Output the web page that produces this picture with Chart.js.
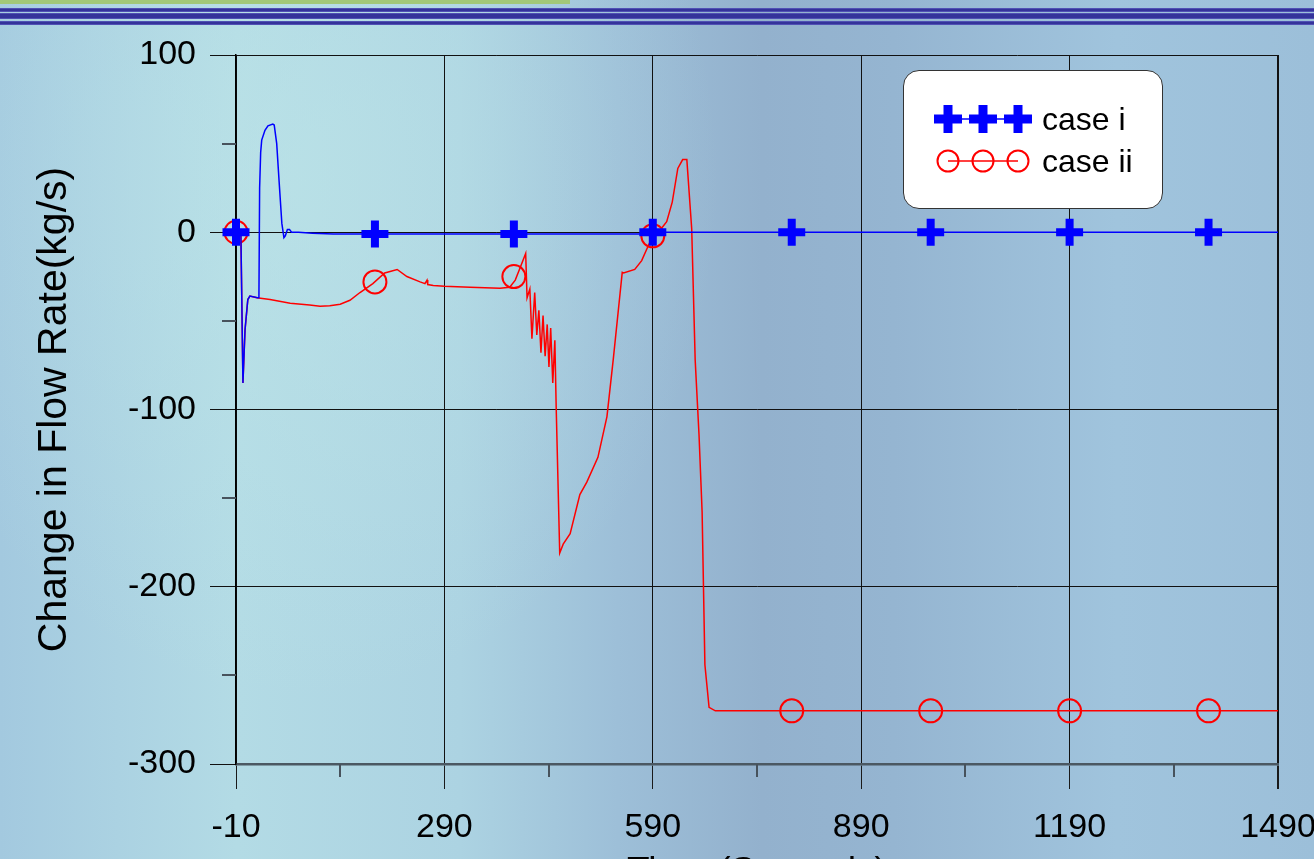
<!DOCTYPE html>
<html>
<head>
<meta charset="utf-8">
<title>Change in Flow Rate</title>
<script src="https://cdn.jsdelivr.net/npm/chart.js@4"></script>
<style>
    html, body {
        margin: 0;
        padding: 0;
        width: 1314px;
        height: 859px;
        overflow: hidden;
        font-family: 'Liberation Sans', Arial, sans-serif;
    }
    #slide {
        position: relative;
        width: 1314px;
        height: 859px;
        overflow: hidden;
        background:
            radial-gradient(ellipse 420px 520px at 300px 180px, rgba(190, 230, 232, 0.55), rgba(190, 230, 232, 0) 100%),
            linear-gradient(90deg, #a3c9df 0%, #b3dbe5 18%, #acd3e2 35%, #9dbfd8 47%, #93b1cd 58%, #95b5d1 68%, #a0c4dd 85%, #9cbfd9 100%);
    }
    .band { position: absolute; left: 0; width: 1314px; background: #34339a; border-top: 1px solid #5050b4; border-bottom: 1px solid #5050b4; box-sizing: border-box; }
    #greenBar { position: absolute; left: 0; top: 0; width: 570px; height: 4px; background: #a2c878; }
    #chartWrap { position: absolute; left: 0; top: 0; width: 1360px; height: 900px; }
    #legendBox {
        position: absolute;
        left: 903px;
        top: 70px;
        width: 260px;
        height: 139px;
        box-sizing: border-box;
        background: #fff;
        border: 1.5px solid #333;
        border-radius: 16px;
        font-size: 32px;
        color: #000;
    }
    .legendRow { position: absolute; left: 0; height: 40px; display: flex; align-items: center; }
    .legendRow svg { margin-left: 28px; margin-right: 6px; }
</style>
</head>
<body>
<div id="slide">
    <div id="greenBar"></div>
    <div class="band" style="top: 8px; height: 4px;"></div>
    <div class="band" style="top: 13px; height: 6px;"></div>
    <div class="band" style="top: 21px; height: 4px;"></div>
    <div id="chartWrap"><canvas id="flowChart" width="1360" height="900"></canvas></div>
    <div id="legendBox">
        <div class="legendRow" style="top: 28px;">
            <svg width="104" height="30" viewBox="0 0 104 30">
                <line x1="16" y1="15" x2="86" y2="15" stroke="#0000ff" stroke-width="1.5"/>
                <g stroke="#0000ff" stroke-width="9">
                    <line x1="2" y1="15" x2="30" y2="15"/><line x1="16" y1="1" x2="16" y2="29"/>
                    <line x1="37" y1="15" x2="65" y2="15"/><line x1="51" y1="1" x2="51" y2="29"/>
                    <line x1="72" y1="15" x2="100" y2="15"/><line x1="86" y1="1" x2="86" y2="29"/>
                </g>
            </svg>
            <span>case i</span>
        </div>
        <div class="legendRow" style="top: 70px;">
            <svg width="104" height="30" viewBox="0 0 104 30">
                <line x1="16" y1="15" x2="86" y2="15" stroke="#ff0000" stroke-width="1.5"/>
                <g stroke="#ff0000" stroke-width="2" fill="none">
                    <circle cx="16" cy="15" r="10.5"/>
                    <circle cx="51" cy="15" r="10.5"/>
                    <circle cx="86" cy="15" r="10.5"/>
                </g>
            </svg>
            <span>case ii</span>
        </div>
    </div>
</div>
<script>
// Time (s) and change in flow rate (kg/s)
const caseITime = [-10, -3, 0, 3, 7, 10, 21, 23, 24, 25.5, 27, 31.7, 36, 43, 45, 48.6, 52, 56, 59, 61, 64, 67, 70, 80, 100, 130, 590, 600, 1490];
const caseIFlow = [0, 0, -85, -55, -38, -36, -37, -37, 25, 45, 52, 57.5, 60, 61, 60.5, 50, 29, 5, -3, -2, 1.5, 1.5, 0, 0, -0.5, -1, -1, 0, 0];

const caseIITime = [-10, -3, 0, 3, 7, 10, 20, 39, 68, 96, 111, 125, 140, 154, 168.5, 187, 204, 222, 236, 255, 262, 265, 266, 274, 290, 327, 370, 384, 392, 399, 407, 409, 413, 416, 420, 423, 426, 429, 432, 435, 438, 440.5, 443, 446, 449, 451, 456, 461, 471, 485, 495, 511, 524, 533, 546, 548, 564, 574, 583, 590, 602, 610, 618, 626, 633, 639, 646, 651, 656.5, 661, 665, 671, 680, 1490];
const caseIIFlow = [0, 0, -85, -55, -38, -36, -37, -38, -40, -41, -41.7, -41.5, -40.6, -38.4, -34, -29, -23, -21, -25, -28, -29, -27, -29.5, -30, -30.5, -31, -31.6, -31, -27, -20, -12, -37, -32, -60, -34, -58, -44, -68, -47, -70, -52, -76, -54, -85, -61, -100, -181, -176, -170, -148, -141, -127, -104, -72, -22.6, -23, -21, -16, -8, -2, 2, 6, 17, 36, 41, 41, 2, -72, -114, -158, -244, -268, -270, -270];

// marker positions
const markerTime = [-10, 190, 390, 590, 790, 990, 1190, 1390];
const caseIMarkers = [0, -1, -1, 0, 0, 0, 0, 0];
const caseIIMarkers = [0, -28, -25, -2, -270, -270, -270, -270];

// axis ticks
const xTickValues = [-10, 290, 590, 890, 1190, 1490];
const xMinorTicks = [140, 440, 740, 1040, 1340];
const yTickValues = [-300, -200, -100, 0, 100];
const yMinorTicks = [-250, -150, -50, 50];

function toPoints(xs, ys) {
    return xs.map((x, i) => ({ x: x, y: ys[i] }));
}

// short minor ticks outside the plot area
const minorTicks = {
    id: 'minorTicks',
    afterDraw(chart) {
        const ctx = chart.ctx;
        const x = chart.scales.x;
        const y = chart.scales.y;
        const area = chart.chartArea;
        ctx.save();
        ctx.strokeStyle = '#47525c';
        ctx.lineWidth = 2;
        ctx.beginPath();
        xMinorTicks.forEach(v => {
            const px = Math.round(x.getPixelForValue(v));
            ctx.moveTo(px, area.bottom);
            ctx.lineTo(px, area.bottom + 13);
        });
        yMinorTicks.forEach(v => {
            const py = Math.round(y.getPixelForValue(v));
            ctx.moveTo(area.left - 14, py);
            ctx.lineTo(area.left, py);
        });
        ctx.stroke();
        ctx.restore();
    }
};

const tickFont = { family: "'Liberation Sans', Arial, sans-serif", size: 34 };

const ctx = document.getElementById('flowChart').getContext('2d');
const chart = new Chart(ctx, {
    type: 'line',
    data: {
        datasets: [{
            label: 'case i markers',
            data: toPoints(markerTime, caseIMarkers),
            showLine: false,
            clip: false,
            pointStyle: 'cross',
            pointRadius: 13.5,
            pointBorderWidth: 8,
            pointBorderColor: '#0000ff',
            pointBackgroundColor: '#0000ff'
        }, {
            label: 'case i',
            data: toPoints(caseITime, caseIFlow),
            borderColor: '#0000ff',
            borderWidth: 1.5,
            pointRadius: 0,
            tension: 0
        }, {
            label: 'case ii markers',
            data: toPoints(markerTime, caseIIMarkers),
            showLine: false,
            clip: false,
            pointStyle: 'circle',
            pointRadius: 11.5,
            pointBorderWidth: 2,
            pointBorderColor: '#ff0000',
            pointBackgroundColor: 'rgba(0,0,0,0)'
        }, {
            label: 'case ii',
            data: toPoints(caseIITime, caseIIFlow),
            borderColor: '#ff0000',
            borderWidth: 1.5,
            pointRadius: 0,
            tension: 0
        }]
    },
    options: {
        responsive: false,
        maintainAspectRatio: false,
        animation: false,
        events: [],
        layout: {
            padding: { top: 55, right: 82, left: 0, bottom: 0 }
        },
        plugins: {
            legend: { display: false },
            tooltip: { enabled: false }
        },
        scales: {
            x: {
                type: 'linear',
                min: -10,
                max: 1490,
                afterBuildTicks: axis => { axis.ticks = xTickValues.map(v => ({ value: v })); },
                afterFit: axis => { axis.height = 136; },
                ticks: {
                    color: '#000',
                    font: tickFont,
                    padding: 18,
                    maxRotation: 0,
                    autoSkip: false,
                    callback: value => String(value)
                },
                grid: {
                    color: '#111',
                    lineWidth: c => (c.tick && c.tick.value === 1490 ? 2 : 1),
                    tickLength: 25,
                    tickColor: '#1a1a1a'
                },
                border: { display: true, color: '#4b5862', width: 2.5 },
                title: {
                    display: true,
                    text: 'Time (Seconds)',
                    color: '#000',
                    font: { family: "'Liberation Sans', Arial, sans-serif", size: 37 },
                    padding: { top: 0, bottom: 5 }
                }
            },
            y: {
                min: -300,
                max: 100,
                afterBuildTicks: axis => { axis.ticks = yTickValues.map(v => ({ value: v })); },
                afterFit: axis => { axis.width = 236; },
                ticks: {
                    color: '#000',
                    font: tickFont,
                    padding: 14,
                    callback: value => String(value)
                },
                grid: {
                    color: '#111',
                    lineWidth: 1,
                    tickLength: 26,
                    tickColor: '#111'
                },
                border: { display: true, color: '#000', width: 1.5 },
                title: {
                    display: true,
                    text: 'Change in Flow Rate(kg/s)',
                    color: '#000',
                    font: { family: "'Liberation Sans', Arial, sans-serif", size: 41 },
                    padding: { top: 30, bottom: 0 }
                }
            }
        }
    },
    plugins: [minorTicks]
});
</script>
</body>
</html>
